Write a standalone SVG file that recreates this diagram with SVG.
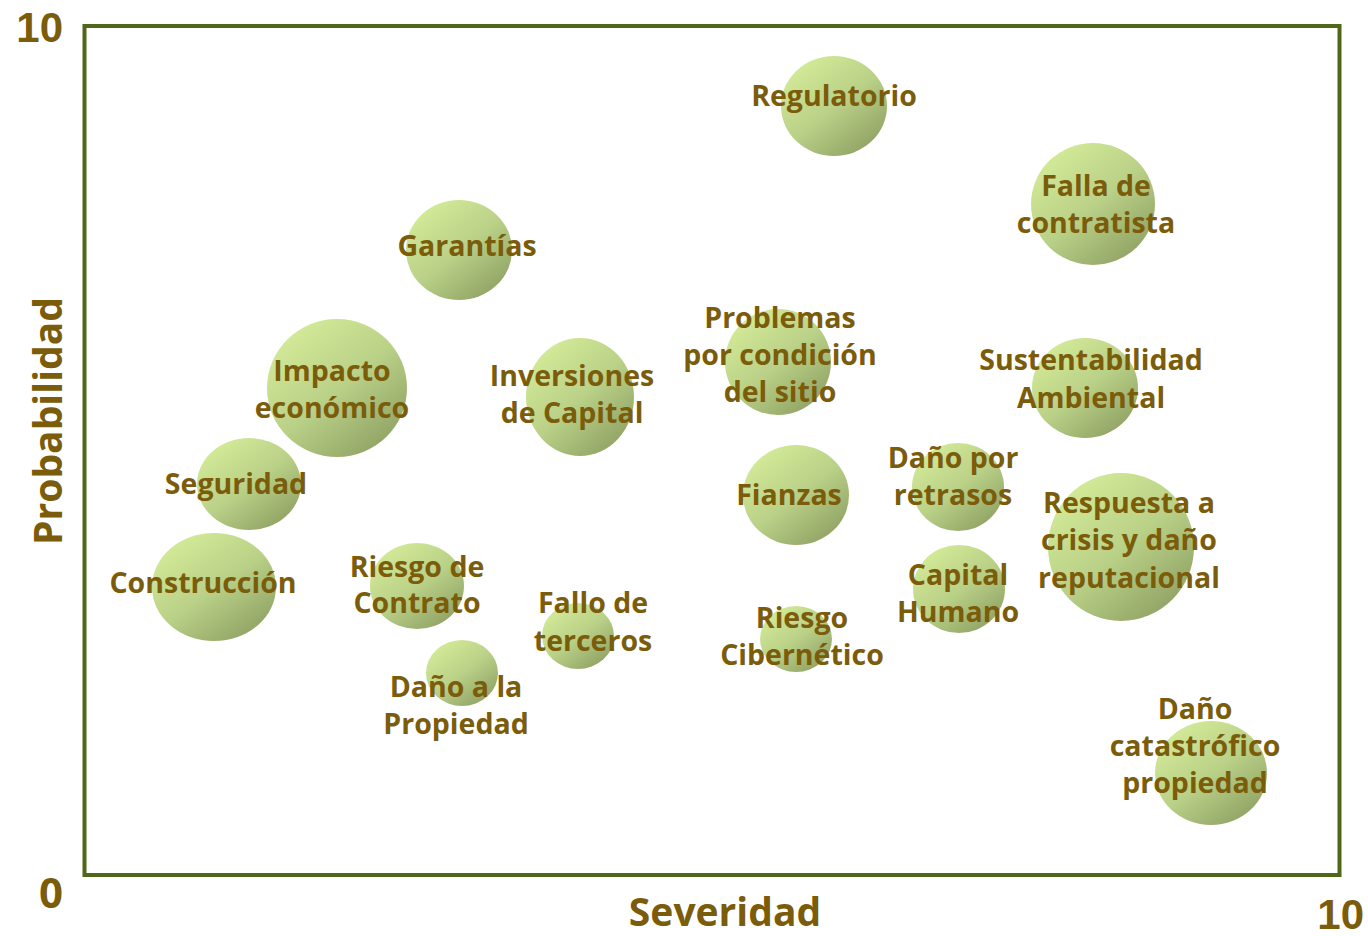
<svg xmlns="http://www.w3.org/2000/svg" width="1368" height="936" viewBox="0 0 1368 936">
<defs>
<linearGradient id="bub" x1="0.15" y1="0.1" x2="0.85" y2="0.95">
<stop offset="0" stop-color="#d3ea98"/>
<stop offset="0.5" stop-color="#b9d087"/>
<stop offset="1" stop-color="#8fa163"/>
</linearGradient>
<style>
.b{fill:url(#bub)}
.t{font-family:"Open Sans","DejaVu Sans",sans-serif;font-weight:700;font-size:28.5px;fill:#7a5c0b;text-anchor:middle}
.ax{font-family:"Open Sans","DejaVu Sans",sans-serif;font-weight:700;font-size:39px;fill:#7a5c0b;text-anchor:middle}
.n{font-family:"Liberation Sans",Arial,sans-serif;font-weight:bold;font-size:42px;fill:#7a5c0b}
</style>
</defs>
<rect x="84.5" y="26" width="1255" height="849" fill="none" stroke="#506618" stroke-width="4"/>
<text class="n" x="63" y="42" text-anchor="end">10</text>
<text class="ax" x="51" y="908" style="font-size:42px">0</text>
<text class="n" x="1364" y="929" text-anchor="end">10</text>
<text class="ax" x="725" y="926">Severidad</text>
<text class="ax" transform="translate(62 421) rotate(-90)">Probabilidad</text>
<g id="connectors"/>
<g id="regulatorio"><ellipse class="b" cx="834" cy="106" rx="53" ry="50"/><text class="t" x="834" y="106">Regulatorio</text></g>
<g id="falla-contratista"><ellipse class="b" cx="1093" cy="204" rx="62" ry="61"/><text class="t" x="1096" y="196">Falla de</text><text class="t" x="1096" y="233">contratista</text></g>
<g id="garantias"><ellipse class="b" cx="459" cy="250" rx="53" ry="50"/><text class="t" x="467" y="256">Garantías</text></g>
<g id="impacto"><ellipse class="b" cx="337" cy="388" rx="70" ry="69"/><text class="t" x="332" y="381">Impacto</text><text class="t" x="332" y="418">económico</text></g>
<g id="inversiones"><ellipse class="b" cx="580" cy="397" rx="54" ry="59"/><text class="t" x="572" y="386">Inversiones</text><text class="t" x="572" y="423">de Capital</text></g>
<g id="problemas"><ellipse class="b" cx="778" cy="362" rx="53" ry="53"/><text class="t" x="780" y="328">Problemas</text><text class="t" x="780" y="365">por condición</text><text class="t" x="780" y="402">del sitio</text></g>
<g id="sustentabilidad"><ellipse class="b" cx="1085" cy="388" rx="53" ry="50"/><text class="t" x="1091" y="370">Sustentabilidad</text><text class="t" x="1091" y="408">Ambiental</text></g>
<g id="seguridad"><ellipse class="b" cx="249" cy="484" rx="52" ry="46"/><text class="t" x="236" y="494">Seguridad</text></g>
<g id="fianzas"><ellipse class="b" cx="796" cy="495" rx="53" ry="50"/><text class="t" x="789" y="505">Fianzas</text></g>
<g id="dano-retrasos"><ellipse class="b" cx="958" cy="487" rx="46" ry="44"/><text class="t" x="953" y="468">Daño por</text><text class="t" x="953" y="505">retrasos</text></g>
<g id="respuesta-crisis"><ellipse class="b" cx="1121" cy="547" rx="73" ry="74"/><text class="t" x="1129" y="513">Respuesta a</text><text class="t" x="1129" y="550">crisis y daño</text><text class="t" x="1129" y="588">reputacional</text></g>
<g id="construccion"><ellipse class="b" cx="214" cy="587" rx="62" ry="54"/><text class="t" x="203" y="593">Construcción</text></g>
<g id="riesgo-contrato"><ellipse class="b" cx="417" cy="586" rx="47" ry="43"/><text class="t" x="417" y="577">Riesgo de</text><text class="t" x="417" y="613">Contrato</text></g>
<g id="fallo-terceros"><ellipse class="b" cx="578" cy="636" rx="36" ry="33"/><text class="t" x="593" y="613">Fallo de</text><text class="t" x="593" y="651">terceros</text></g>
<g id="capital-humano"><ellipse class="b" cx="959" cy="589" rx="46" ry="44"/><text class="t" x="958" y="585">Capital</text><text class="t" x="958" y="622">Humano</text></g>
<g id="riesgo-cibernetico"><ellipse class="b" cx="796" cy="639" rx="36" ry="33"/><text class="t" x="802" y="628">Riesgo</text><text class="t" x="802" y="665">Cibernético</text></g>
<g id="dano-propiedad"><ellipse class="b" cx="462" cy="673" rx="36" ry="33"/><text class="t" x="456" y="697">Daño a la</text><text class="t" x="456" y="734">Propiedad</text></g>
<g id="dano-catastrofico"><ellipse class="b" cx="1211" cy="773" rx="56" ry="52"/><text class="t" x="1195" y="719">Daño</text><text class="t" x="1195" y="756">catastrófico</text><text class="t" x="1195" y="793">propiedad</text></g>
</svg>
